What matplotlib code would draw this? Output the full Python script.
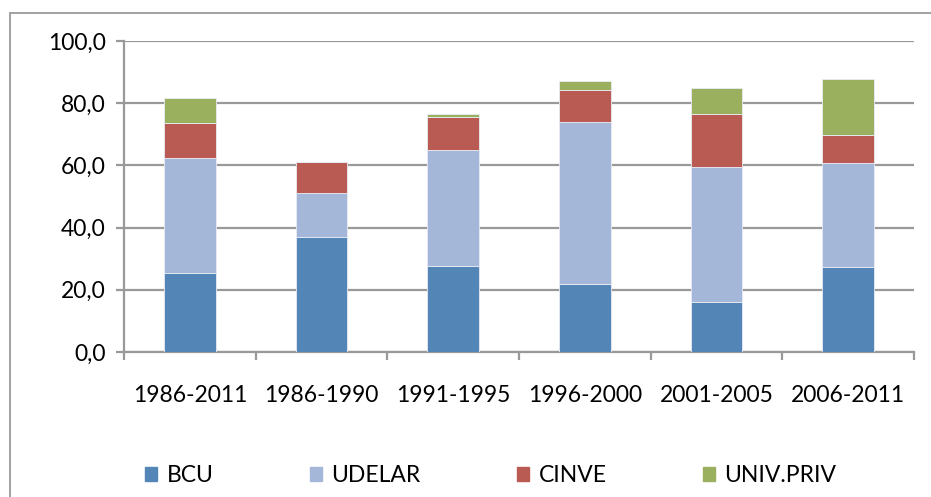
import matplotlib
matplotlib.use("Agg")
import matplotlib.pyplot as plt
from matplotlib.patches import Rectangle, Patch
import numpy as np

categories = ["1986-2011", "1986-1990", "1991-1995", "1996-2000", "2001-2005", "2006-2011"]
series_names = ["BCU", "UDELAR", "CINVE", "UNIV.PRIV"]
bcu = [25.4, 37.0, 27.6, 21.8, 16.1, 27.2]
udelar = [37.0, 14.0, 37.5, 52.1, 43.4, 33.6]
cinve = [11.2, 10.1, 10.5, 10.4, 17.0, 9.0]
univ_priv = [8.2, 0.0, 0.8, 2.8, 8.3, 18.0]
yticks = [0, 20, 40, 60, 80, 100]
ytick_labels = ["0,0", "20,0", "40,0", "60,0", "80,0", "100,0"]

colors = ["#5485B7", "#A4B7D8", "#B95B53", "#9BB05E"]

plt.rcParams['font.family'] = ['Lato', 'DejaVu Sans']
FS = 16.5

W, H = 931, 497
fig = plt.figure(figsize=(W / 100, H / 100), dpi=100)
ax = fig.add_axes([124 / W, 1 - 352 / H, (914 - 124) / W, (352 - 41) / H])

# chart frame
fig.add_artist(Rectangle((9.5 / W, -0.1), 1.2, 1 - 12.5 / H + 0.1, transform=fig.transFigure,
                         fill=False, edgecolor="#9a9a9a", linewidth=1.3))

x = np.arange(len(categories))
bottom = np.zeros(len(categories))
for vals, c in zip([bcu, udelar, cinve, univ_priv], colors):
    ax.bar(x, vals, width=0.39, bottom=bottom, color=c, edgecolor="#e8ecf4",
           linewidth=0.6, zorder=3)
    bottom += np.array(vals)

ax.set_xlim(-0.5, len(categories) - 0.5)
ax.set_ylim(0, 100)
ax.set_yticks(yticks)
ax.set_yticklabels(ytick_labels, fontsize=FS)
ax.yaxis.grid(True, color="#999999", linewidth=1.6, zorder=0)
ax.set_axisbelow(True)

ax.set_xticks(x)
ax.set_xticklabels(categories, fontsize=FS)
ax.set_xticks(np.arange(-0.5, len(categories)), minor=True)
ax.tick_params(axis='x', which='major', length=0, pad=24)
ax.tick_params(axis='x', which='minor', length=6, width=1.6, color="#999999", direction='out')
ax.tick_params(axis='y', length=6, width=1.6, color="#999999", direction='out', pad=7)

for s in ["top", "right"]:
    ax.spines[s].set_visible(False)
for s in ["left", "bottom"]:
    ax.spines[s].set_color("#999999")
    ax.spines[s].set_linewidth(1.6)

handles = [Patch(facecolor=c, edgecolor=c) for c in colors]
leg = fig.legend(handles, series_names, loc="center", bbox_to_anchor=(0.527, 1 - 476 / H),
                 ncol=4, frameon=False, fontsize=FS, handlelength=0.55, handleheight=0.55,
                 handletextpad=0.4, columnspacing=4.2)

fig.savefig("out.png", dpi=100, facecolor="white")
